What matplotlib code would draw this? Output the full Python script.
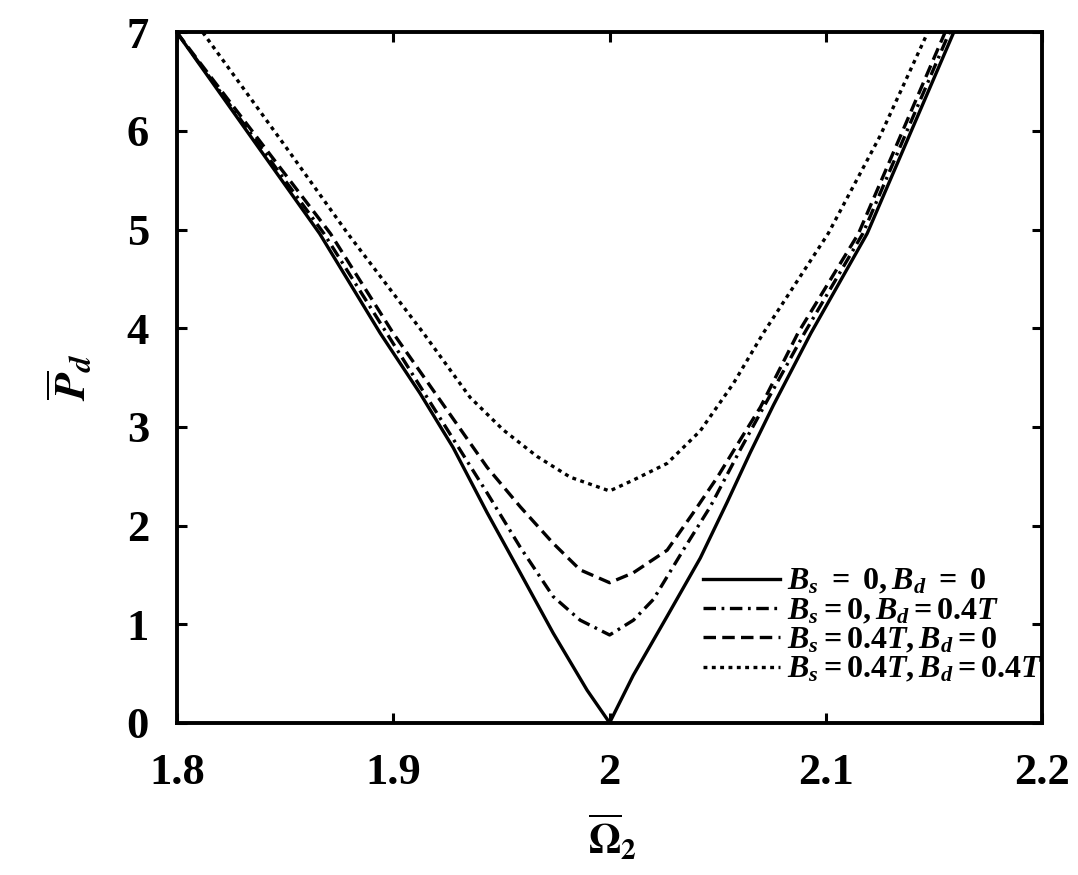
import matplotlib
matplotlib.use("Agg")
import matplotlib.pyplot as plt

# values
x_solid = [1.80, 1.866, 1.894, 1.9124, 1.9277, 1.9434, 1.9587, 1.9739, 1.9896, 2.00,
           2.0109, 2.0266, 2.0419, 2.0544, 2.065, 2.0757, 2.093, 2.119, 2.159]
p_solid = [7.00, 4.96, 3.95, 3.34, 2.79, 2.13, 1.52, 0.91, 0.33, 0.00,
           0.48, 1.08, 1.67, 2.24, 2.74, 3.22, 3.95, 4.96, 7.00]

x_dashdot = [1.80, 1.868, 1.897, 1.9434, 1.9587, 1.9739, 1.9864, 2.00,
             2.011, 2.0202, 2.034, 2.0465, 2.0604, 2.0729, 2.090, 2.117, 2.157]
p_dashdot = [7.00, 4.96, 3.95, 2.33, 1.78, 1.28, 1.04, 0.89,
             1.04, 1.25, 1.75, 2.19, 2.77, 3.27, 3.95, 4.96, 7.00]

x_dashed = [1.80, 1.871, 1.900, 1.9434, 1.9587, 1.9739, 1.9864, 2.00,
            2.0109, 2.0266, 2.0387, 2.0498, 2.0604, 2.0697, 2.087, 2.115, 2.155]
p_dashed = [7.00, 4.96, 3.95, 2.59, 2.19, 1.82, 1.55, 1.42,
            1.52, 1.75, 2.13, 2.49, 2.87, 3.20, 3.95, 4.96, 7.00]

x_dotted = [1.812, 1.85, 1.879, 1.914, 1.9355, 1.9508, 1.9665, 1.9818, 2.00,
            2.0109, 2.0266, 2.0419, 2.0572, 2.071, 2.101, 2.125, 2.147]
p_dotted = [7.00, 5.85, 4.96, 3.95, 3.30, 2.97, 2.70, 2.49, 2.35,
            2.46, 2.63, 2.96, 3.44, 3.95, 4.96, 5.95, 7.00]

labels = [r'$B_s\ =\ 0, B_d\ =\ 0$',
          r'$B_s=0, B_d=0.4T$',
          r'$B_s=0.4T, B_d=0$',
          r'$B_s=0.4T, B_d=0.4T$']

x_ticks = [1.8, 1.9, 2.0, 2.1, 2.2]
x_ticklabels = ['1.8', '1.9', '2', '2.1', '2.2']
y_ticks = [0, 1, 2, 3, 4, 5, 6, 7]

plt.rcParams['font.family'] = ['Liberation Serif', 'DejaVu Serif']
plt.rcParams['font.weight'] = 'bold'
plt.rcParams['lines.scale_dashes'] = False
plt.rcParams['mathtext.fontset'] = 'custom'
plt.rcParams['mathtext.it'] = 'Liberation Serif:italic:bold'
plt.rcParams['mathtext.rm'] = 'Liberation Serif:bold'
plt.rcParams['mathtext.bf'] = 'Liberation Serif:bold'

fig = plt.figure(figsize=(10.78, 8.75), dpi=100)
ax = fig.add_axes([0.164, 0.174, 0.803, 0.789])

lw = 2.4
ax.plot(x_solid, p_solid, color='black', lw=lw, linestyle='-', label=labels[0])
ax.plot(x_dashdot, p_dashdot, color='black', lw=lw, linestyle=(0, (9, 4, 2, 4)), label=labels[1])
ax.plot(x_dashed, p_dashed, color='black', lw=lw, linestyle=(0, (9, 4.5)), label=labels[2])
ax.plot(x_dotted, p_dotted, color='black', lw=lw, linestyle=(0, (2.8, 3.2)), label=labels[3])

ax.set_xlim(1.8, 2.2)
ax.set_ylim(0, 7)
ax.set_xticks(x_ticks)
ax.set_xticklabels(x_ticklabels)
ax.set_yticks(y_ticks)

ax.tick_params(direction='in', length=7, width=2.2, top=True, right=True,
               labelsize=32)
ax.tick_params(axis='x', pad=22)
ax.tick_params(axis='y', pad=20)
for sp in ax.spines.values():
    sp.set_linewidth(2.8)

# axis labels (plain, not bold)
ax.set_xlabel(r'$\overline{\Omega}_2$', fontsize=30, fontweight='normal',
              math_fontfamily='stix')
ax.set_ylabel(r'$\overline{P}_d$', fontsize=32, fontweight='normal',
              math_fontfamily='stix')
ax.xaxis.set_label_coords(0.503, -0.13)
ax.yaxis.set_label_coords(-0.094, 0.5)

leg = ax.legend(loc='lower right', bbox_to_anchor=(1.0, 0.055), frameon=False,
                prop={'size': 23, 'weight': 'bold'}, handlelength=2.4,
                handletextpad=0.2, labelspacing=0.0, borderpad=0.0,
                borderaxespad=0.0)

fig.savefig('out.png', dpi=100)
